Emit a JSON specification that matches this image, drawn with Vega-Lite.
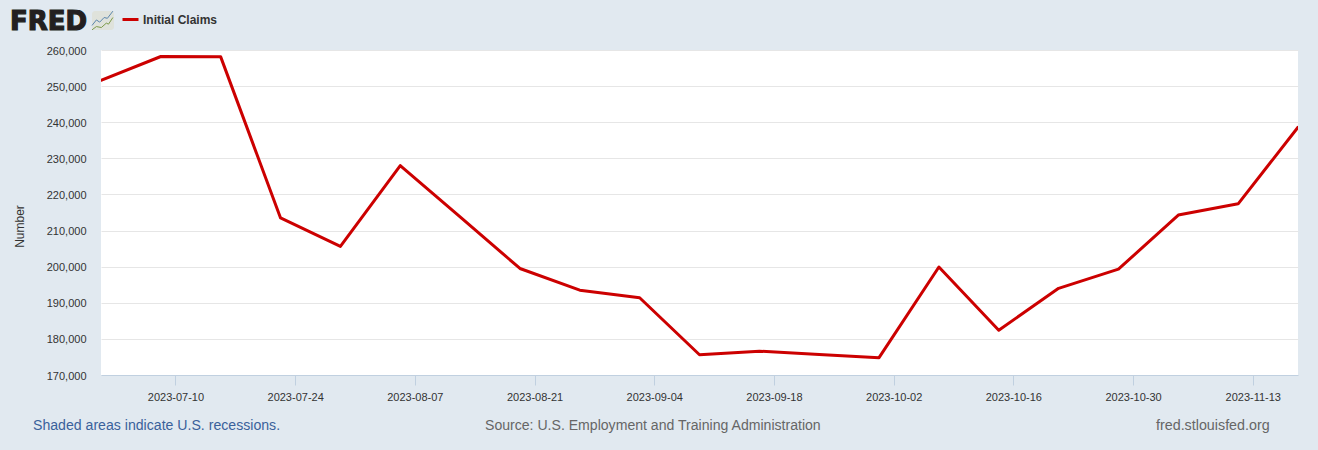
{
"$schema":"https://vega.github.io/schema/vega-lite/v6.json",
"width":1197,"height":325,
"autosize":{"type":"none"},
"padding":{"left":101,"top":50,"right":20,"bottom":75},
"background":"#e1e9f0",
"view":{"fill":"#ffffff","stroke":null},
"config":{"font":"Liberation Sans"},
"data":{"values":[
{"date":"2023-07-01","claims":251600,"series":"Initial Claims"},
{"date":"2023-07-08","claims":258200,"series":"Initial Claims"},
{"date":"2023-07-15","claims":258100,"series":"Initial Claims"},
{"date":"2023-07-22","claims":213500,"series":"Initial Claims"},
{"date":"2023-07-29","claims":205600,"series":"Initial Claims"},
{"date":"2023-08-05","claims":228000,"series":"Initial Claims"},
{"date":"2023-08-12","claims":213800,"series":"Initial Claims"},
{"date":"2023-08-19","claims":199500,"series":"Initial Claims"},
{"date":"2023-08-26","claims":193500,"series":"Initial Claims"},
{"date":"2023-09-02","claims":191400,"series":"Initial Claims"},
{"date":"2023-09-09","claims":175600,"series":"Initial Claims"},
{"date":"2023-09-16","claims":176600,"series":"Initial Claims"},
{"date":"2023-09-23","claims":175700,"series":"Initial Claims"},
{"date":"2023-09-30","claims":174800,"series":"Initial Claims"},
{"date":"2023-10-07","claims":199900,"series":"Initial Claims"},
{"date":"2023-10-14","claims":182400,"series":"Initial Claims"},
{"date":"2023-10-21","claims":194000,"series":"Initial Claims"},
{"date":"2023-10-28","claims":199300,"series":"Initial Claims"},
{"date":"2023-11-04","claims":214300,"series":"Initial Claims"},
{"date":"2023-11-11","claims":217400,"series":"Initial Claims"},
{"date":"2023-11-18","claims":238600,"series":"Initial Claims"}
]},
"layer":[
{"mark":{"type":"line","strokeWidth":3,"strokeJoin":"round","strokeCap":"round","clip":true},
"encoding":{
"x":{"field":"date","type":"temporal","scale":{"type":"utc","domain":[{"year":2023,"month":7,"date":1,"utc":true},{"year":2023,"month":11,"date":18,"utc":true}]},
"axis":{"title":null,"grid":false,"domainColor":"#c0d0e0","domainWidth":1,"tickColor":"#c0d0e0","tickSize":10,"labelColor":"#333333","labelFontSize":11,"labelPadding":6,"labelFont":"Liberation Sans",
"values":[{"year":2023,"month":7,"date":9,"hours":17,"utc":true},{"year":2023,"month":7,"date":23,"hours":17,"utc":true},{"year":2023,"month":8,"date":6,"hours":17,"utc":true},{"year":2023,"month":8,"date":20,"hours":17,"utc":true},{"year":2023,"month":9,"date":3,"hours":17,"utc":true},{"year":2023,"month":9,"date":17,"hours":17,"utc":true},{"year":2023,"month":10,"date":1,"hours":17,"utc":true},{"year":2023,"month":10,"date":15,"hours":17,"utc":true},{"year":2023,"month":10,"date":29,"hours":17,"utc":true},{"year":2023,"month":11,"date":12,"hours":17,"utc":true}],
"labelExpr":"utcFormat(datum.value+25200000,'%Y-%m-%d')"}},
"y":{"field":"claims","type":"quantitative","scale":{"domain":[170000,260000],"nice":false,"zero":false},
"axis":{"title":"Number","titleFontSize":12,"titleFontWeight":"normal","titleColor":"#333333","titlePadding":20,"titleY":176,"grid":true,"gridColor":"#e6e6e6","domain":false,"ticks":false,"tickSize":0,"labelPadding":15,"labelOffset":1,"labelColor":"#333333","labelFontSize":11,"values":[170000,180000,190000,200000,210000,220000,230000,240000,250000,260000],"format":",d"}},
"color":{"field":"series","type":"nominal","scale":{"domain":["Initial Claims"],"range":["#cc0000"]},
"legend":{"title":null,"orient":"none","legendX":20,"legendY":-40,"symbolType":"stroke","symbolStrokeWidth":3,"symbolSize":256,"labelFontSize":12,"labelFontWeight":"bold","labelColor":"#333333","labelOffset":3,"labelFont":"Liberation Sans"}}
}},
{"data":{"values":[{"text":"FRED"}]},"mark":{"type":"text","x":-91,"y":-20,"align":"left","baseline":"alphabetic","font":"DejaVu Sans","fontWeight":"bold","fontSize":26,"color":"#231f20","stroke":"#231f20","strokeWidth":1.2,"clip":false},"encoding":{"text":{"field":"text"}}},
{"data":{"values":[{"text":"icon"}]},"mark":{"type":"rect","cornerRadius":3,"color":"#dfe2db"},"encoding":{"x":{"value":-9},"x2":{"value":13},"y":{"value":-39},"y2":{"value":-20}}},
{"data":{"values":[{"text":"icon"}]},"mark":{"type":"point","x":2,"y":-29.5,"size":484,"filled":false,"opacity":1,"stroke":"#5b86ad","strokeWidth":1,"shape":"M-1,0.45L-0.6,-0.05L-0.3,0.15L0.1,-0.27L0.4,-0.2L0.9,-0.85"}},
{"data":{"values":[{"text":"icon"}]},"mark":{"type":"point","x":2,"y":-29.5,"size":484,"filled":false,"opacity":1,"stroke":"#7c9a4a","strokeWidth":1,"shape":"M-1,0.85L-0.6,0.55L-0.15,0.64L0.3,0.24L0.5,0.33L0.9,-0.27"}},
{"data":{"values":[{"text":"Shaded areas indicate U.S. recessions."}]},"mark":{"type":"text","x":-68,"y":380,"align":"left","baseline":"alphabetic","fontSize":14.12,"color":"#3a619b"},"encoding":{"text":{"field":"text"}}},
{"data":{"values":[{"text":"Source: U.S. Employment and Training Administration"}]},"mark":{"type":"text","x":384,"y":380,"align":"left","baseline":"alphabetic","fontSize":14.08,"color":"#666666"},"encoding":{"text":{"field":"text"}}},
{"data":{"values":[{"text":"fred.stlouisfed.org"}]},"mark":{"type":"text","x":1055,"y":380,"align":"left","baseline":"alphabetic","fontSize":14.3,"color":"#666666"},"encoding":{"text":{"field":"text"}}}
]
}
